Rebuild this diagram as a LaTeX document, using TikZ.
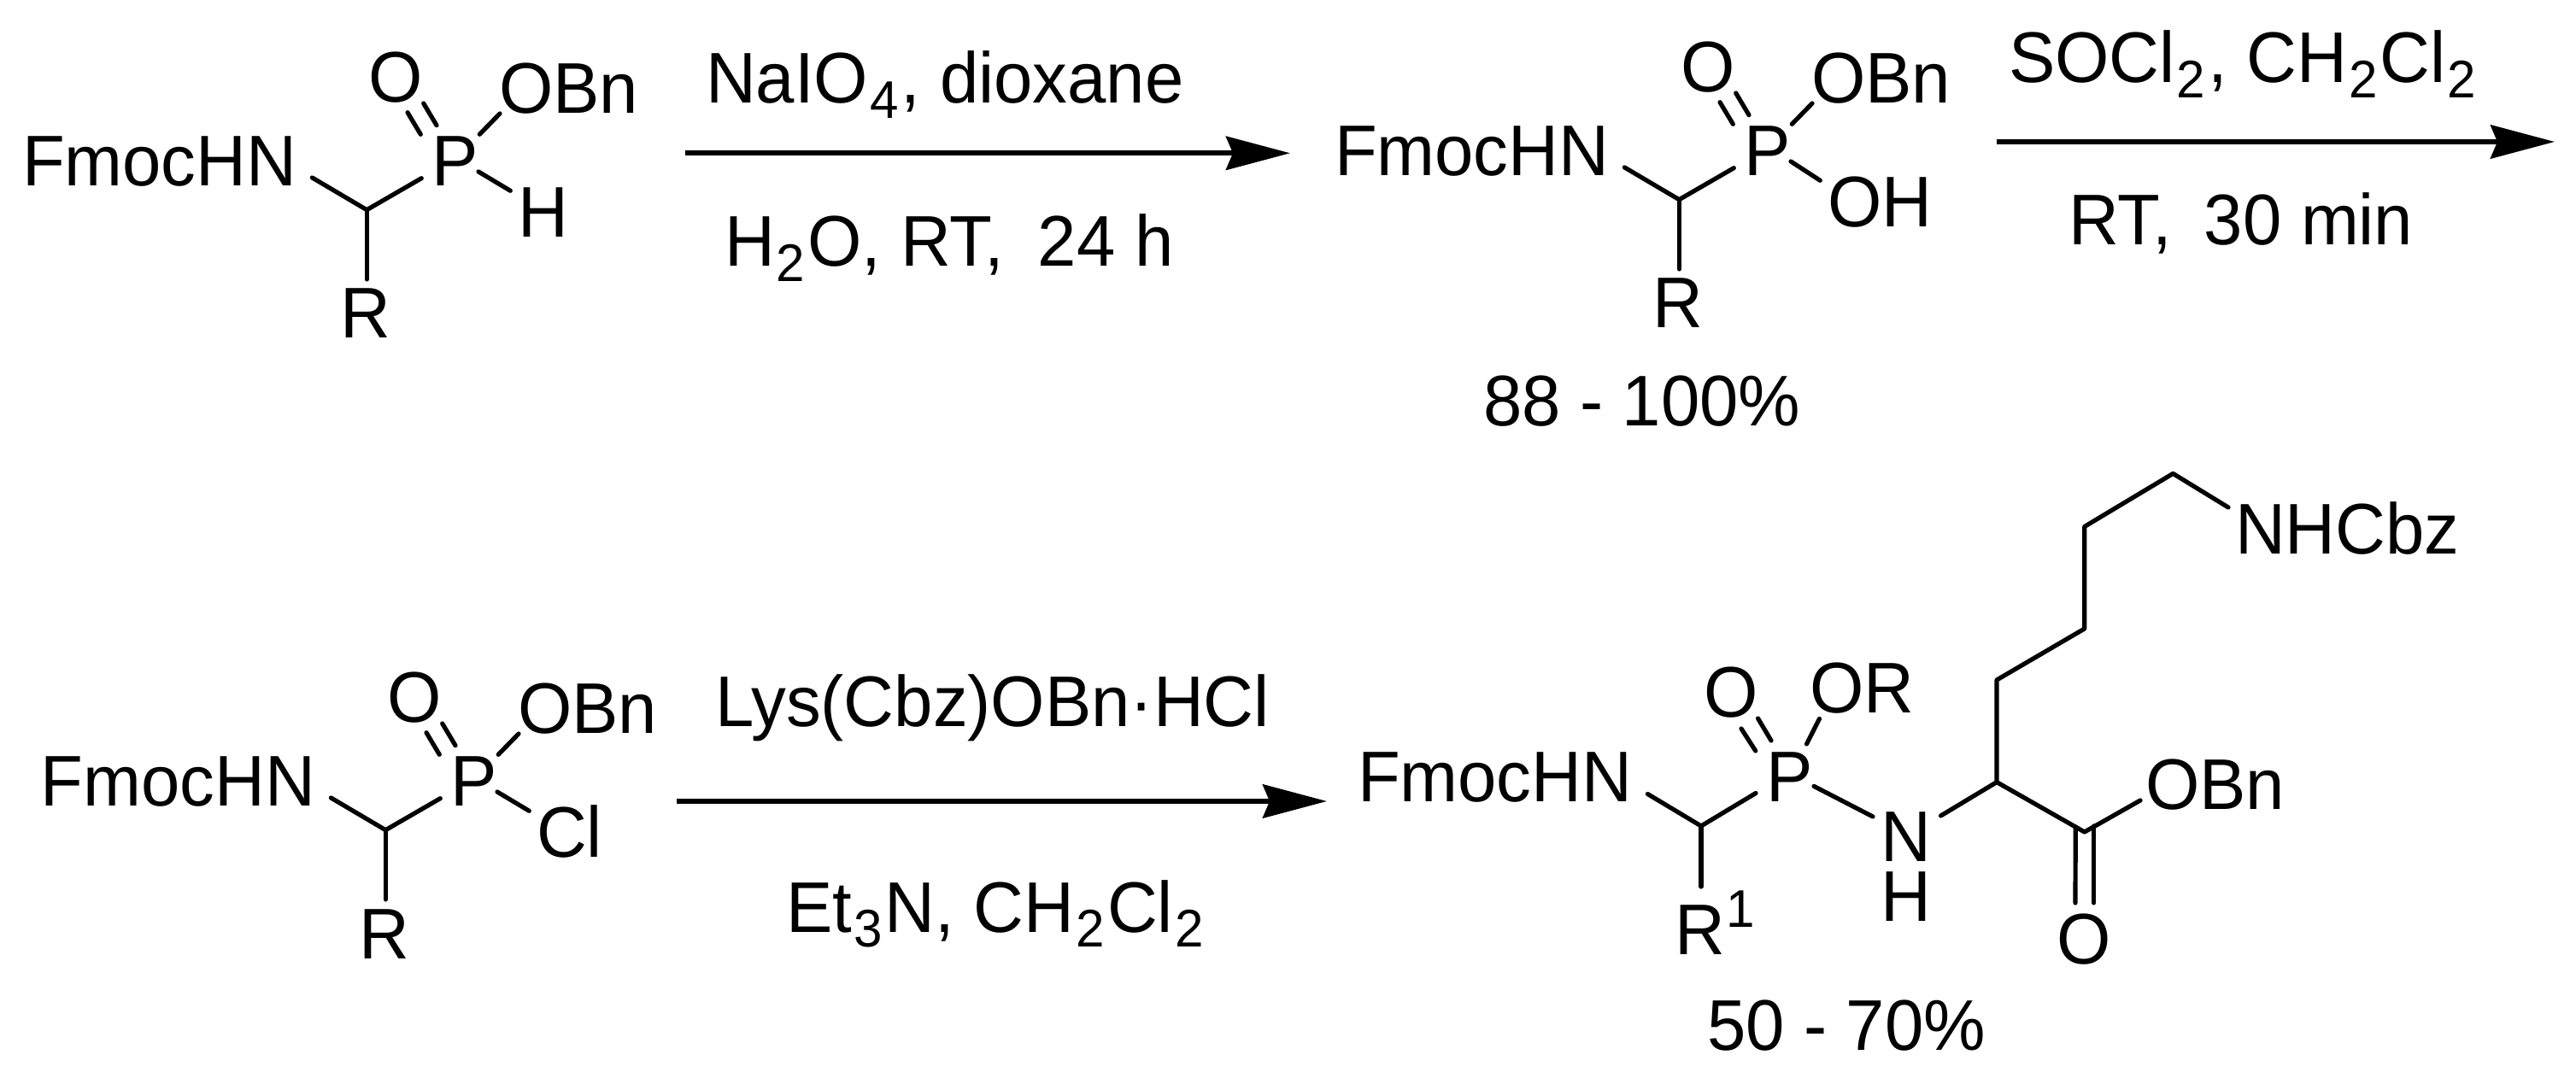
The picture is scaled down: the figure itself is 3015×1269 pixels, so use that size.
\documentclass[tikz,border=0pt]{standalone}
\usepackage{fontspec}
\setmainfont[FakeStretch=0.97]{Liberation Sans}
\usetikzlibrary{calc,arrows.meta}
\newcommand{\subsc}[1]{\kern0.5pt\raisebox{-4.4pt}{\fontsize{15.5}{15.5}\selectfont #1}\kern0.8pt}
\tikzset{
  lab/.style={inner sep=0pt,outer sep=0pt,font=\fontsize{21}{24}\selectfont},
  labw/.style={lab,anchor=base west},
  labc/.style={lab,anchor=base},
  bond/.style={line width=1.3pt,black,line cap=round,line join=round},
  rxn/.style={line width=1.5pt,black,-{Stealth[length=18.75pt,width=9.8pt,inset=2pt]}}
}
% #1 prefix, #2 shift, #3 leaving-group left x, #4 leaving-group text
\newcommand{\phosmol}[4]{%
  \begin{scope}[shift={(#2)}]
    \node[labw] (#1F) at (26,218) {FmocHN};
    \node[labc] (#1P) at (533,218) {P};
    \node[labc] (#1O) at (463,120) {O};
    \node[labw] (#1B) at (584,133) {OBn};
    \node[labw] (#1X) at (#3,278) {#4};
    \node[labc] (#1R) at (428,396) {R};
    \coordinate (#1C) at (429.3,245.7);
    \draw[bond] ($(#1F.base east)+(18,-10)$) -- (#1C) -- ($(#1P.base)+(-39.7,-9.3)$);
    \draw[bond] (#1C) -- ($(#1R.base)+(1.3,-69)$);
    \draw[bond] ($(#1P.base)+(28.3,-60.7)$) -- ($(#1B.base west)+(1,0)$);
    \draw[bond] ($(#1O.base)+(14,11.7)$) -- ($(#1P.base)+(-40.7,-60.7)$);
    \draw[bond] ($(#1O.base)+(32.7,1)$) -- ($(#1P.base)+(-22,-71.3)$);
    \draw[bond] ($(#1P.base)+(27,-17)$) -- ($(#1X.base west)+(-8.7,-54.7)$);
  \end{scope}}
\begin{document}
\begin{tikzpicture}[x=0.25pt,y=-0.25pt]
\useasboundingbox (0,0) rectangle (3015,1269);
\phosmol{a}{0,0}{606}{H}
\phosmol{b}{1536,-12}{603}{OH}
\phosmol{c}{22,726}{606}{Cl}
% reaction 1
\coordinate (a1s) at (802,179.3); \coordinate (a1e) at (1510,179.3);
\draw[rxn] (a1s) -- (a1e);
\node[labw] (t1) at (826,121) {NaIO\subsc{4}, dioxane};
\node[labw] (t2) at (848,312) {H\subsc{2}O, RT,\hspace{10pt}24 h};
% reaction 2
\coordinate (a2s) at (2337,166); \coordinate (a2e) at (2990,166);
\draw[rxn] (a2s) -- (a2e);
\node[labw] (t3) at (2351,97) {SOCl\subsc{2}, CH\subsc{2}Cl\subsc{2}};
\node[labw] (t4) at (2421,287) {RT,\hspace{9.5pt}30 min};
\node[labw] (y1) at (1736,498.5) {88 - 100\%};
% reaction 3
\coordinate (a3s) at (792,938); \coordinate (a3e) at (1553,938);
\draw[rxn] (a3s) -- (a3e);
\node[labw] (t5) at (837,851) {Lys(Cbz)OBn·HCl};
\node[labw] (t6) at (920,1091) {Et\subsc{3}N, CH\subsc{2}Cl\subsc{2}};
% product
\node[labw] (dF) at (1589,939) {FmocHN};
\node[labc] (dP) at (2095,939) {P};
\node[labc] (dO) at (2026,840) {O};
\node[labw] (dOR) at (2118,835) {OR};
\node[labc] (dN) at (2231,1009) {N};
\node[labc] (dH) at (2231,1078) {H};
\node[labw] (dR) at (1960,1118) {R\kern0.5pt\raisebox{8pt}{\fontsize{15.5}{15.5}\selectfont 1}};
\node[labw] (dZ) at (2616,649) {NHCbz};
\node[labw] (dB) at (2511,948) {OBn};
\node[labc] (dQ) at (2439,1129) {O};
\node[labw] (y2) at (1998,1229) {50 - 70\%};
\coordinate (dC) at (1991,967);
\coordinate (dA) at (2337,915.6);
\coordinate (dG) at (2337,796);
\coordinate (dD) at (2439.7,736);
\coordinate (dE) at (2439.7,616.5);
\coordinate (dK) at (2543.3,554.4);
\coordinate (dL) at (2439.7,974);
\draw[bond] ($(dF.base east)+(18,-9.5)$) -- (dC) -- ($(dP.base)+(-40,-10.5)$);
\draw[bond] (dC) -- ($(dR.base west)+(31,-80)$);
\draw[bond] ($(dO.base)+(12,13)$) -- ($(dP.base)+(-40.3,-60)$);
\draw[bond] ($(dO.base)+(31.5,1)$) -- ($(dP.base)+(-22,-72)$);
\draw[bond] ($(dP.base)+(19.5,-68)$) -- ($(dOR.base west)+(11.4,6.5)$);
\draw[bond] ($(dP.base)+(28,-18.6)$) -- ($(dN.base)+(-39,-53)$);
\draw[bond] ($(dN.base)+(40.5,-54)$) -- (dA) -- (dG) -- (dD) -- (dE) -- (dK) -- ($(dZ.base west)+(-8,-55)$);
\draw[bond] (dA) -- (dL) -- ($(dB.base west)+(-6,-11)$);
\draw[bond] ($(dL)+(-10.5,-6)$) -- ($(dQ.base)+(-10,-72)$);
\draw[bond] ($(dL)+(11,-7)$) -- ($(dQ.base)+(11.7,-72)$);
\end{tikzpicture}
\end{document}
